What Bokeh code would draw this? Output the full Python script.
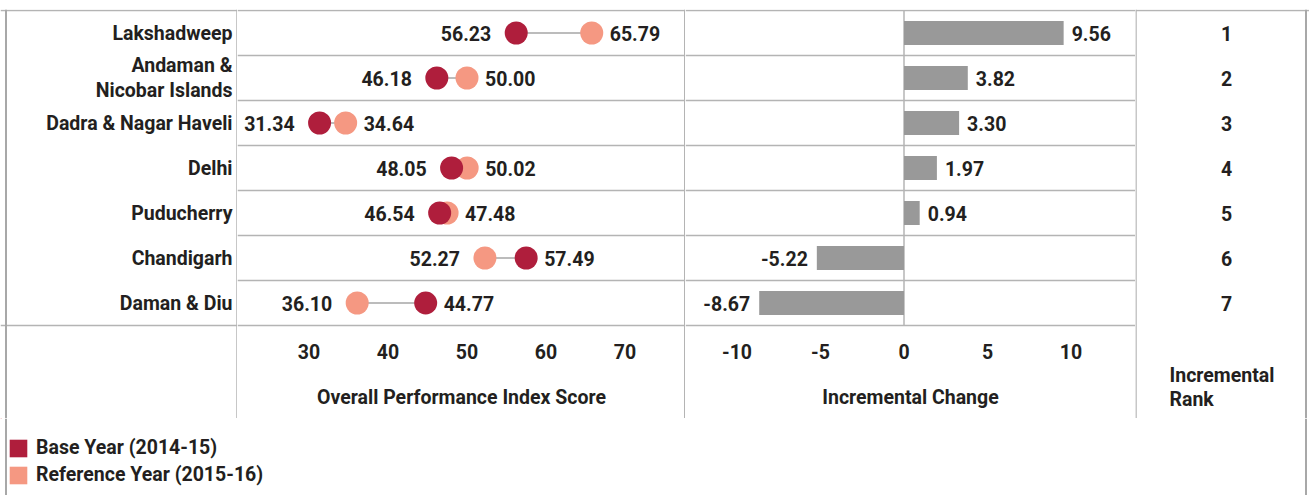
from bokeh.plotting import figure
from bokeh.layouts import row, column
from bokeh.models import (Range1d, FixedTicker, Span, Grid, Legend, LegendItem,
                          PrintfTickFormatter)
from bokeh.core.properties import value
from bokeh.embed import file_html
from bokeh.resources import INLINE

# ---------------- data ----------------
territories = ["Lakshadweep", "Andaman &\nNicobar Islands", "Dadra & Nagar Haveli",
               "Delhi", "Puducherry", "Chandigarh", "Daman & Diu"]
base_scores = [56.23, 46.18, 31.34, 48.05, 46.54, 57.49, 44.77]
reference_scores = [65.79, 50.00, 34.64, 50.02, 47.48, 52.27, 36.10]
incremental_change = [9.56, 3.82, 3.30, 1.97, 0.94, -5.22, -8.67]
incremental_rank = [1, 2, 3, 4, 5, 6, 7]
score_ticks = [30, 40, 50, 60, 70]
change_ticks = [-10, -5, 0, 5, 10]
series_names = ["Base Year (2014-15)", "Reference Year (2015-16)"]

# ---------------- style ----------------
FONT_NAME = "Roboto"
FONT = value(FONT_NAME)
FS = "19.5px"
TXT = "#231F20"
BASE_C = "#AF1E3C"
REF_C = "#F59882"
BAR_C = "#999999"
GRID_C = "#B4B4B4"
EDGE_C = "#A8A8A8"
LINK_C = "#A6A6A6"

N = len(territories)
rows = [i + 0.5 for i in range(N)]
TABLE_H = 418          # page y 0..418
TOP = 9                # frame starts at y=9, first row line at y=10
ROW_PX = 45.0
Y_START = -1 / ROW_PX
Y_END = (TABLE_H - 10) / ROW_PX

DB_PX = 7.9
DB_START = 30 - (308.5 - 237) / DB_PX
DB_END = DB_START + 448 / DB_PX
BAR_PX = 16.7
BAR_START = -(903.5 - 685) / BAR_PX
BAR_END = BAR_START + 450 / BAR_PX


def panel(width, xs, xe, with_axis=False):
    kw = dict(width=width, height=TABLE_H, x_range=Range1d(xs, xe),
              y_range=Range1d(Y_END, Y_START), output_backend="svg",
              toolbar_location=None, min_border_left=0, min_border_right=0,
              min_border_top=TOP, min_border_bottom=0, outline_line_color=None,
              background_fill_color="white", border_fill_color="white",
              y_axis_location=None)
    if not with_axis:
        kw["x_axis_location"] = None
    p = figure(**kw)
    for g in p.grid:
        g.visible = False
    return p


def hgrid(p, ticks):
    p.add_layout(Grid(dimension=1, ticker=FixedTicker(ticks=ticks),
                      grid_line_color=GRID_C, grid_line_width=1.5))


def vline(p, x, color=GRID_C, width=1.5):
    p.add_layout(Span(location=x, dimension="height", line_color=color, line_width=width))


def style_axis(p, ticks, label):
    ax = p.xaxis[0]
    ax.fixed_location = 7
    ax.ticker = FixedTicker(ticks=ticks)
    ax.formatter = PrintfTickFormatter(format="%d")
    ax.axis_line_color = None
    ax.major_tick_line_color = None
    ax.minor_tick_line_color = None
    ax.major_tick_out = 0
    ax.major_tick_in = 0
    ax.major_label_standoff = 18
    ax.major_label_text_font = FONT_NAME
    ax.major_label_text_font_size = FS
    ax.major_label_text_font_style = "bold"
    ax.major_label_text_color = TXT
    ax.axis_label = label
    ax.axis_label_standoff = 24
    ax.axis_label_text_font = FONT_NAME
    ax.axis_label_text_font_size = FS
    ax.axis_label_text_font_style = "bold"
    ax.axis_label_text_color = TXT


txt_kw = dict(text_font=FONT, text_font_size=FS, text_font_style="bold",
              text_color=TXT, text_baseline="middle")

# ---------------- name column ----------------
pn = panel(237, 0, 237)
hgrid(pn, [0, 7])
vline(pn, 5.5, EDGE_C, 2)
vline(pn, 236.5)
pn.text(x=[232] * N, y=rows, text=territories, text_align="right",
        text_line_height=1.05, **txt_kw)

# ---------------- dumbbell ----------------
pd = panel(448, DB_START, DB_END, with_axis=True)
hgrid(pd, list(range(8)))
vline(pd, DB_END - 0.75 / DB_PX)
pd.segment(x0=base_scores, y0=rows, x1=reference_scores, y1=rows,
           line_color=LINK_C, line_width=1.5)
pd.scatter(x=reference_scores, y=rows, size=23, fill_color=REF_C, line_color=None)
pd.scatter(x=base_scores, y=rows, size=23, fill_color=BASE_C, line_color=None)
lo = [min(b, r) for b, r in zip(base_scores, reference_scores)]
hi = [max(b, r) for b, r in zip(base_scores, reference_scores)]
pd.text(x=lo, y=rows, text=[f"{v:.2f}" for v in lo], x_offset=-25,
        text_align="right", **txt_kw)
pd.text(x=hi, y=rows, text=[f"{v:.2f}" for v in hi], x_offset=18,
        text_align="left", **txt_kw)
style_axis(pd, score_ticks, "Overall Performance Index Score")

# ---------------- bar ----------------
pb = panel(450, BAR_START, BAR_END, with_axis=True)
hgrid(pb, list(range(8)))
pb.segment(x0=[0], y0=[0], x1=[0], y1=[7], line_color=GRID_C, line_width=1.5)
pb.hbar(y=rows, left=0, right=incremental_change, height=0.53,
        fill_color=BAR_C, line_color=None)
pos = [(v, y) for v, y in zip(incremental_change, rows) if v >= 0]
neg = [(v, y) for v, y in zip(incremental_change, rows) if v < 0]
pb.text(x=[v for v, _ in pos], y=[y for _, y in pos], text=[f"{v:.2f}" for v, _ in pos],
        x_offset=8, text_align="left", **txt_kw)
pb.text(x=[v for v, _ in neg], y=[y for _, y in neg], text=[f"{v:.2f}" for v, _ in neg],
        x_offset=-9, text_align="right", **txt_kw)
style_axis(pb, change_ticks, "Incremental Change")

# ---------------- rank ----------------
pr = panel(174, 1135, 1309)
hgrid(pr, [0])
vline(pr, 1135.5)
vline(pr, 1305.5, EDGE_C, 2)
pr.text(x=[1226] * N, y=rows, text=[str(r) for r in incremental_rank],
        text_align="center", **txt_kw)
pr.text(x=[1169], y=[8.38], text=["Incremental\nRank"], text_align="left",
        text_line_height=1.05, **txt_kw)

# ---------------- legend strip ----------------
pl = figure(width=1309, height=77, x_range=Range1d(0, 1309), y_range=Range1d(495, 418),
            output_backend="svg", toolbar_location=None, min_border_left=0,
            min_border_right=0, min_border_top=0, min_border_bottom=0,
            outline_line_color=None, x_axis_location=None, y_axis_location=None,
            background_fill_color="white", border_fill_color="white")
for g in pl.grid:
    g.visible = False
vline(pl, 5.5, EDGE_C, 2)
vline(pl, 1305.5, EDGE_C, 2)
# legend renderers: one off-canvas bar each, only the legend swatch is visible
r_base = pl.hbar(y=[-1000], left=[0], right=[1], height=1, fill_color=BASE_C, line_color=None)
r_ref = pl.hbar(y=[-1000], left=[0], right=[1], height=1, fill_color=REF_C, line_color=None)
leg = Legend(items=[LegendItem(label=series_names[0], renderers=[r_base]),
                    LegendItem(label=series_names[1], renderers=[r_ref])],
             location=(7, 9), orientation="vertical", glyph_width=22, glyph_height=22,
             label_height=22, label_standoff=7, spacing=4, padding=0, margin=0,
             border_line_color=None, background_fill_alpha=0,
             label_text_font=FONT_NAME, label_text_font_size=FS,
             label_text_font_style="bold", label_text_color=TXT)
pl.add_layout(leg)

layout = column(row(pn, pd, pb, pr, spacing=0), pl, spacing=0)
open("out.html", "w").write(file_html(layout, INLINE))
